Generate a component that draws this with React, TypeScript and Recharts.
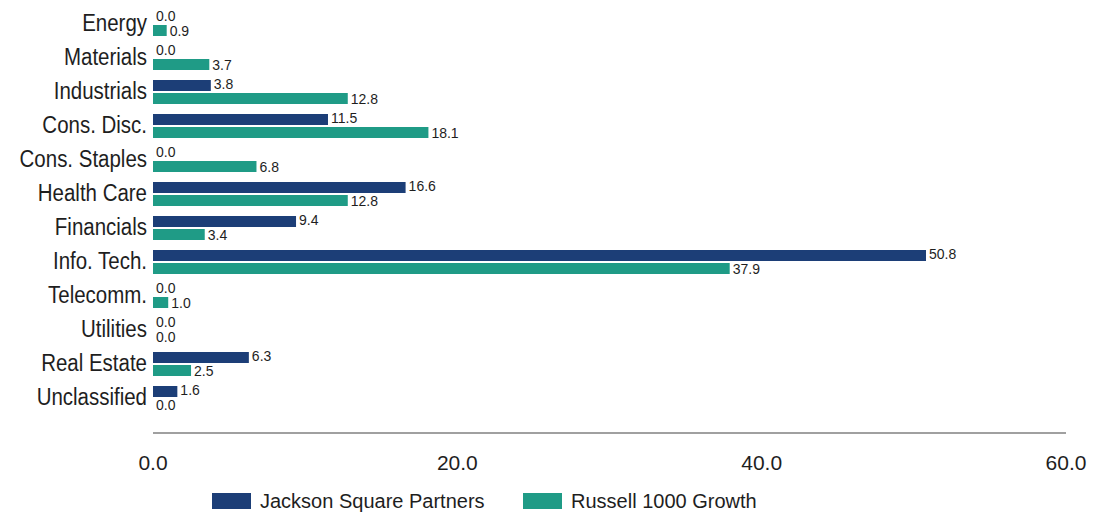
import { BarChart, Bar, XAxis, YAxis, Legend, LabelList } from 'recharts';

const sectors = [
  'Energy',
  'Materials',
  'Industrials',
  'Cons. Disc.',
  'Cons. Staples',
  'Health Care',
  'Financials',
  'Info. Tech.',
  'Telecomm.',
  'Utilities',
  'Real Estate',
  'Unclassified',
];
const jacksonSquare = [0.0, 0.0, 3.8, 11.5, 0.0, 16.6, 9.4, 50.8, 0.0, 0.0, 6.3, 1.6];
const russell1000Growth = [0.9, 3.7, 12.8, 18.1, 6.8, 12.8, 3.4, 37.9, 1.0, 0.0, 2.5, 0.0];
const xTicks = [0, 20, 40, 60];

const DARK = '#1c3e77';
const TEAL = '#1f9b86';
const FONT = '"Liberation Sans", Arial, sans-serif';

const chartData = sectors.map((name, i) => ({
  name,
  jsp: jacksonSquare[i],
  r1g: russell1000Growth[i],
}));

// category labels look a bit squeezed in the original, so scale them horizontally
function SectorTick(props: any) {
  const { x, y, payload } = props;
  return (
    <g transform={`translate(${x},${y})`}>
      <text
        transform="scale(0.89,1)"
        x={0}
        y={0}
        dy="0.3em"
        textAnchor="end"
        fill="#1e1e1e"
        fontSize={23}
        fontFamily={FONT}
      >
        {payload.value}
      </text>
    </g>
  );
}

function renderLegend() {
  const items = [
    { label: 'Jackson Square Partners', color: DARK, left: 212 },
    { label: 'Russell 1000 Growth', color: TEAL, left: 523 },
  ];
  return (
    <div style={{ position: 'relative', height: 31, fontFamily: FONT }}>
      {items.map((it) => (
        <div
          key={it.label}
          style={{ position: 'absolute', left: it.left, top: 10, display: 'flex', alignItems: 'center' }}
        >
          <span style={{ display: 'inline-block', width: 39, height: 16, background: it.color }} />
          <span style={{ marginLeft: 9, fontSize: 20, color: '#1e1e1e', lineHeight: '16px' }}>{it.label}</span>
        </div>
      ))}
    </div>
  );
}

const fmt = (v: any) => Number(v).toFixed(1);

export default function App() {
  return (
    <div style={{ position: 'fixed', left: 0, top: 0, background: '#fff' }}>
      <BarChart
        width={1106}
        height={514}
        data={chartData}
        layout="vertical"
        margin={{ top: 7, right: 40, bottom: 0, left: 0 }}
        barSize={11}
        barGap={2}
      >
        <XAxis
          type="number"
          domain={[0, 60]}
          ticks={xTicks}
          tickFormatter={fmt}
          height={50}
          tickSize={0}
          tickMargin={22}
          axisLine={{ stroke: '#a0a0a0', strokeWidth: 2 }}
          tick={{ fill: '#1e1e1e', fontSize: 21, fontFamily: FONT }}
        />
        <YAxis
          type="category"
          dataKey="name"
          width={153}
          tickSize={0}
          tickMargin={6}
          axisLine={false}
          tickLine={false}
          interval={0}
          padding={{ top: 0, bottom: 18 }}
          tick={<SectorTick />}
        />
        <Legend verticalAlign="bottom" height={31} content={renderLegend} />
        <Bar
          dataKey="jsp"
          name="Jackson Square Partners"
          fill={DARK}
          minPointSize={0.01}
          isAnimationActive={false}
        >
          <LabelList
            dataKey="jsp"
            position="right"
            offset={3}
            formatter={fmt}
            fill="#1e1e1e"
            fontSize={14}
            fontFamily={FONT}
            dy={-1}
          />
        </Bar>
        <Bar
          dataKey="r1g"
          name="Russell 1000 Growth"
          fill={TEAL}
          minPointSize={0.01}
          isAnimationActive={false}
        >
          <LabelList
            dataKey="r1g"
            position="right"
            offset={3}
            formatter={fmt}
            fill="#1e1e1e"
            fontSize={14}
            fontFamily={FONT}
            dy={1}
          />
        </Bar>
      </BarChart>
    </div>
  );
}
